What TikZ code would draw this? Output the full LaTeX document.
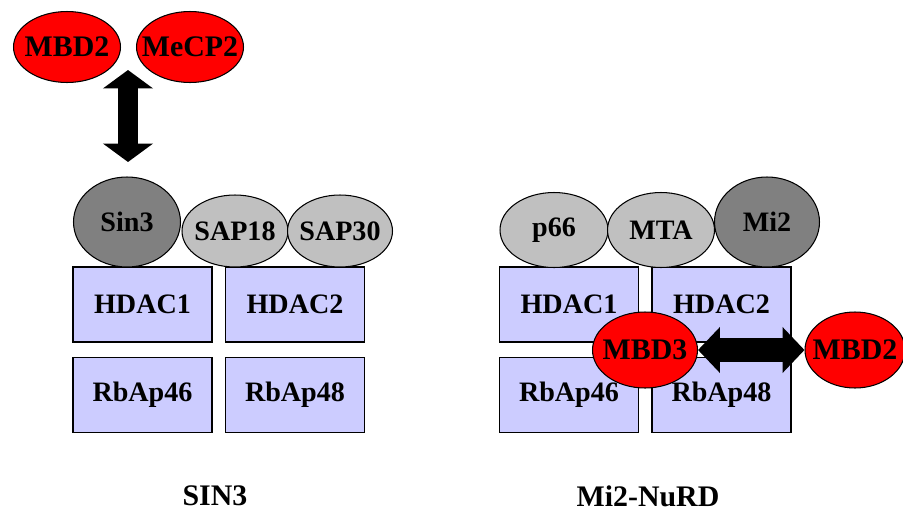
\documentclass[tikz,border=0pt]{standalone}
\usepackage{fontspec}
\setmainfont{Liberation Serif}
\usetikzlibrary{shapes.geometric,arrows.meta}
\definecolor{lavender}{RGB}{204,204,255}
\definecolor{darkprot}{RGB}{128,128,128}
\definecolor{lightprot}{RGB}{192,192,192}

\begin{document}
\begin{tikzpicture}[x=0.02cm,y=-0.02cm,
  prot/.style={ellipse,draw,line width=0.6pt,inner sep=0pt,font=\fontsize{16}{18}\selectfont\bfseries},
  mbd/.style={prot,fill=red,font=\fontsize{17}{19}\selectfont\bfseries},
  core/.style={rectangle,draw,line width=0.6pt,fill=lavender,minimum width=2.78cm,minimum height=1.5cm,font=\fontsize{16}{18}\selectfont\bfseries},
  title/.style={font=\fontsize{17}{19}\selectfont\bfseries}]
\useasboundingbox (0,0) rectangle (903,511);
% SIN3 complex
\node (mbdL)  at (67,47)  [mbd,minimum width=2.14cm,minimum height=1.42cm] {\makebox[0pt]{MBD2}};
\node (mecp)  at (190,47) [mbd,minimum width=2.14cm,minimum height=1.42cm] {\makebox[0pt]{MeCP2}};
\node (hdacL1) at (142.5,304.5) [core] {HDAC1};
\node (hdacL2) at (295,304.5)   [core] {HDAC2};
\node (rbL46)  at (142.5,395)   [core] {RbAp46};
\node (rbL48)  at (295,395)     [core] {RbAp48};
\node (sin3)  at (127,222) [prot,fill=darkprot,minimum width=2.14cm,minimum height=1.8cm] {\makebox[0pt]{Sin3}};
\node (sap18) at (235,231) [prot,fill=lightprot,minimum width=2.12cm,minimum height=1.44cm] {\makebox[0pt]{SAP18}};
\node (sap30) at (340,231) [prot,fill=lightprot,minimum width=2.1cm,minimum height=1.44cm] {\makebox[0pt]{SAP30}};
\node (sinlbl) at (215,496) [title] {SIN3};
\coordinate (upT) at (128,70);
\coordinate (upB) at (128,162);
\draw [line width=11.3pt,{Triangle[width=28pt,length=10.5pt]}-{Triangle[width=28pt,length=10.5pt]}] (upT) -- (upB);
% Mi2-NuRD complex
\node (hdacR1) at (569,304.5)   [core] {HDAC1};
\node (hdacR2) at (721.5,304.5) [core] {HDAC2};
\node (rbR46)  at (569,395)     [core] {RbAp46};
\node (rbR48)  at (721.5,395)   [core] {RbAp48};
\node (p66) at (554,230) [prot,fill=lightprot,minimum width=2.16cm,minimum height=1.5cm] {\makebox[0pt]{p66}};
\node (mta) at (661,230) [prot,fill=lightprot,minimum width=2.14cm,minimum height=1.5cm] {\makebox[0pt]{MTA}};
\node (mi2) at (767,222) [prot,fill=darkprot,minimum width=2.1cm,minimum height=1.8cm] {\makebox[0pt]{Mi2}};
\node (mbd3) at (645,350) [mbd,minimum width=2.1cm,minimum height=1.52cm] {\makebox[0pt]{MBD3}};
\node (mbdR) at (855,350) [mbd,minimum width=2.0cm,minimum height=1.52cm] {\makebox[0pt]{MBD2}};
\node (nurdlbl) at (648,496) [title] {Mi2-NuRD};
\draw [line width=14pt,{Triangle[width=25.5pt,length=12.5pt]}-{Triangle[width=25.5pt,length=12.5pt]}] (mbd3.east) -- (mbdR.west);
\end{tikzpicture}
\end{document}
